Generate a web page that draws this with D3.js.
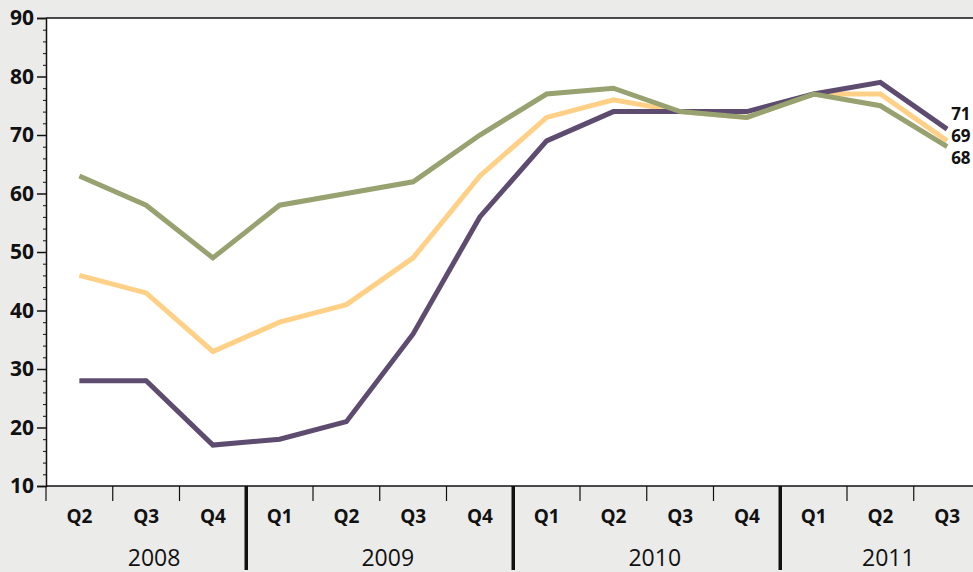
<!DOCTYPE html>
<html>
<head>
<meta charset="utf-8">
<script src="https://cdn.jsdelivr.net/npm/d3@7"></script>
<style>
  html, body { margin: 0; padding: 0; background: #ebebea; }
  svg { display: block; }
  text { font-family: "Open Sans", "Noto Sans", sans-serif; fill: #111; }
</style>
</head>
<body>
<svg id="chart" width="973" height="572"></svg>
<script>
// Quarterly periods shown on the x axis
const years = ["2008", "2009", "2010", "2011"];
const quarters = [
  ["2008", "Q2"], ["2008", "Q3"], ["2008", "Q4"],
  ["2009", "Q1"], ["2009", "Q2"], ["2009", "Q3"], ["2009", "Q4"],
  ["2010", "Q1"], ["2010", "Q2"], ["2010", "Q3"], ["2010", "Q4"],
  ["2011", "Q1"], ["2011", "Q2"], ["2011", "Q3"]
];

// Index series
const purpleSeries = [28, 28, 17, 18, 21, 36, 56, 69, 74, 74, 74, 77, 79, 71];
const orangeSeries = [46, 43, 33, 38, 41, 49, 63, 73, 76, 74, 73, 77, 77, 69];
const greenSeries  = [63, 58, 49, 58, 60, 62, 70, 77, 78, 74, 73, 77, 75, 68];

const yTicks = [10, 20, 30, 40, 50, 60, 70, 80, 90];

const svg = d3.select("#chart");
const W = 973, H = 572;
const mLeft = 46, mTop = 18, mBottom = 486;
const band = 66.75;
const mRight = mLeft + band * quarters.length;

const keys = quarters.map(d => d[0] + "-" + d[1]);
const x = d3.scaleBand().domain(keys).range([mLeft, mRight]).padding(0);
const y = d3.scaleLinear().domain([10, 90]).range([mBottom, mTop]);

// plot area
svg.append("rect")
  .attr("x", mLeft).attr("y", mTop)
  .attr("width", W - mLeft).attr("height", mBottom - mTop)
  .attr("fill", "#ffffff");

// top border
svg.append("line")
  .attr("x1", mLeft).attr("x2", W).attr("y1", mTop).attr("y2", mTop)
  .attr("stroke", "#111").attr("stroke-width", 1.5);

// y axis with minor ticks
const yMinor = d3.range(10, 90.01, 2).filter(v => v % 10 !== 0);
svg.append("g").attr("transform", `translate(${mLeft},0)`)
  .call(d3.axisLeft(y).tickValues(yMinor).tickSize(3).tickFormat(""))
  .call(g => g.select(".domain").remove())
  .call(g => g.selectAll("line").attr("stroke", "#111"));
svg.append("g").attr("transform", `translate(${mLeft},0)`)
  .call(d3.axisLeft(y).tickValues(yTicks).tickSize(9).tickPadding(3).tickFormat(d3.format("d")))
  .call(g => g.select(".domain").attr("stroke", "#111").attr("stroke-width", 1.5))
  .call(g => g.selectAll("line").attr("stroke", "#111").attr("stroke-width", 1.5))
  .call(g => g.selectAll("text")
    .style("font-family", "'Open Sans', 'Noto Sans', sans-serif")
    .style("font-size", "21px").style("font-weight", "700").attr("fill", "#111"));

// series lines
const line = d3.line()
  .x((d, i) => x(keys[i]) + x.bandwidth() / 2)
  .y(d => y(d));

const series = [
  { values: purpleSeries, color: "#5d4c6f" },
  { values: orangeSeries, color: "#ffd085" },
  { values: greenSeries,  color: "#98a170" }
];
// orange underneath, purple over it, green on top
[series[1], series[0], series[2]].forEach(s => {
  svg.append("path")
    .datum(s.values)
    .attr("d", line)
    .attr("fill", "none")
    .attr("stroke", s.color)
    .attr("stroke-width", 5)
    .attr("stroke-linejoin", "miter");
});

// end labels (spread to avoid overlap)
const endLabels = [
  { v: purpleSeries[purpleSeries.length - 1], cy: 114 },
  { v: orangeSeries[orangeSeries.length - 1], cy: 136 },
  { v: greenSeries[greenSeries.length - 1], cy: 158 }
];
svg.selectAll("text.endlab").data(endLabels).enter().append("text")
  .attr("class", "endlab")
  .attr("x", x(keys[keys.length - 1]) + x.bandwidth() / 2 + 4)
  .attr("y", d => d.cy)
  .attr("dy", "0.35em")
  .style("font-size", "17px").style("font-weight", "700")
  .text(d => d.v);

// x axis baseline
svg.append("line")
  .attr("x1", mLeft).attr("x2", W).attr("y1", mBottom).attr("y2", mBottom)
  .attr("stroke", "#111").attr("stroke-width", 1.5);

// quarter tick marks at band edges
const bounds = d3.range(quarters.length + 1).map(i => mLeft + i * band);
const isYearStart = i => i > 0 && i < quarters.length && quarters[i][1] === "Q1";
svg.selectAll("line.qtick").data(bounds.filter((b, i) => !isYearStart(i))).enter().append("line")
  .attr("class", "qtick")
  .attr("x1", d => d).attr("x2", d => d)
  .attr("y1", mBottom).attr("y2", mBottom + 15)
  .attr("stroke", "#111").attr("stroke-width", 1.2);

// year separators
svg.selectAll("line.ysep").data(bounds.filter((b, i) => isYearStart(i))).enter().append("line")
  .attr("class", "ysep")
  .attr("x1", d => d).attr("x2", d => d)
  .attr("y1", mBottom).attr("y2", H - 2)
  .attr("stroke", "#111").attr("stroke-width", 3.5);

// quarter labels
svg.selectAll("text.qlab").data(quarters).enter().append("text")
  .attr("class", "qlab")
  .attr("x", (d, i) => x(keys[i]) + x.bandwidth() / 2)
  .attr("y", 523)
  .attr("text-anchor", "middle")
  .style("font-size", "19px").style("font-weight", "700")
  .text(d => d[1]);

// year labels centred over their quarters
years.forEach(yr => {
  const idx = quarters.map((q, i) => q[0] === yr ? i : -1).filter(i => i >= 0);
  const x0 = x(keys[idx[0]]);
  const x1 = x(keys[idx[idx.length - 1]]) + x.bandwidth();
  svg.append("text")
    .attr("x", (x0 + x1) / 2 + 8)
    .attr("y", 566)
    .attr("text-anchor", "middle")
    .style("font-size", "23px").style("font-weight", "400")
    .text(yr);
});
</script>
</body>
</html>
